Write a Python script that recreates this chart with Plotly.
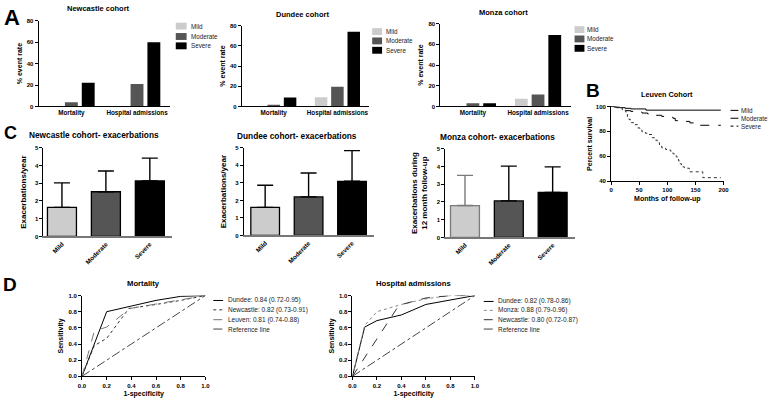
import plotly.graph_objects as go

W, H = 777, 401
FONT = "Liberation Sans, Arial, sans-serif"

# ---------------- data ----------------
severities = ["Mild", "Moderate", "Severe"]
sev_colors = ["#cccccc", "#555555", "#000000"]
outcomes = ["Mortality", "Hospital admissions"]

newcastle_event = {"Mild": [0, 0], "Moderate": [4, 21], "Severe": [22, 60]}
dundee_event = {"Mild": [0, 9], "Moderate": [1.5, 19.5], "Severe": [8.8, 74]}
monza_event = {"Mild": [0, 7.5], "Moderate": [3, 11.5], "Severe": [3, 69]}

surv_mild_t = [0, 8, 15, 25, 35, 45, 60, 62, 195]
surv_mild_s = [100, 99.5, 99, 98.5, 98, 98, 98, 97, 97]
surv_mod_t = [0, 5, 10, 15, 20, 26, 35, 45, 55, 65, 79, 90, 102, 110, 114, 125, 131, 140, 147, 153, 195]
surv_mod_s = [100, 99.5, 99, 98.5, 97.5, 96.6, 96, 95.5, 94.7, 94, 92.9, 92, 91.3, 90.5, 88.6, 88.3, 88, 86.8, 86, 84.9, 84.9]
surv_sev_t = [0, 8, 15, 20, 26, 29, 32, 36, 41, 47, 51, 55, 61, 67, 73, 78, 82, 86, 90, 97, 105, 110, 114, 117,
              120, 123, 125, 130, 134, 139, 160, 163, 195]
surv_sev_s = [100, 99.5, 98.7, 96.6, 95.5, 92, 89.4, 87, 85.4, 82.8, 81, 79.6, 78.5, 77.5, 74.9, 73, 70.9, 69, 66.9,
              65.5, 64.3, 62, 60.3, 58, 56.3, 54, 51.6, 51, 50.5, 47.6, 47.6, 42.9, 42.9]

newcastle_exac_mean = [1.64, 2.52, 3.13]
newcastle_exac_top = [3.02, 3.69, 4.42]
dundee_exac_mean = [1.6, 2.2, 3.09]
dundee_exac_top = [2.86, 3.56, 4.84]
monza_exac_mean = [1.8, 2.06, 2.54]
monza_exac_top = [3.5, 4.02, 3.98]

mort_dundee_x = [0, 0.2, 0.4, 0.6, 0.8, 1.0]
mort_dundee_y = [0, 0.80, 0.87, 0.94, 0.99, 1.0]
mort_newcastle_x = [0, 0.1, 0.2, 0.38, 0.6, 0.8, 1.0]
mort_newcastle_y = [0, 0.38, 0.47, 0.84, 0.89, 0.94, 1.0]
mort_leuven_x = [0, 0.1, 0.2, 0.39, 1.0]
mort_leuven_y = [0, 0.56, 0.61, 0.84, 1.0]
ref_x = [0, 1]
ref_y = [0, 1]

hosp_dundee_x = [0, 0.1, 0.2, 0.4, 0.6, 1.0]
hosp_dundee_y = [0, 0.61, 0.69, 0.76, 0.89, 1.0]
hosp_monza_x = [0, 0.1, 0.2, 0.4, 0.6, 0.8, 1.0]
hosp_monza_y = [0, 0.63, 0.80, 0.89, 0.96, 1.0, 1.0]
hosp_newcastle_x = [0, 0.38, 0.6, 0.8, 1.0]
hosp_newcastle_y = [0, 0.88, 0.97, 1.0, 1.0]

mort_legend = ["Dundee: 0.84 (0.72-0.95)", "Newcastle: 0.82 (0.73-0.91)", "Leuven: 0.81 (0.74-0.88)", "Reference line"]
hosp_legend = ["Dundee: 0.82 (0.78-0.86)", "Monza: 0.88 (0.79-0.96)", "Newcastle: 0.80 (0.72-0.87)", "Reference line"]

# ---------------- helpers ----------------
def dx(a, b):
    return [a / W, b / W]

def dy(top, bottom):
    return [1 - bottom / H, 1 - top / H]

tickfont = dict(family=FONT, size=7, color="black", weight="bold")
titlefont = dict(family=FONT, size=7.5, color="black", weight="bold")

def axis(domain, rng, anchor, title=None, standoff=2, tfont=None, **kw):
    d = dict(domain=domain, range=rng, anchor=anchor, showline=True, linecolor="black", linewidth=1,
             ticks="outside", ticklen=3, tickwidth=1, tickcolor="black", showgrid=False, zeroline=False,
             tickfont=tickfont, fixedrange=True)
    if title:
        d["title"] = dict(text=title, font=tfont or titlefont, standoff=standoff)
    d.update(kw)
    return d

fig = go.Figure()
layout = dict(width=W, height=H, margin=dict(l=0, r=0, t=0, b=0), paper_bgcolor="white", plot_bgcolor="white",
              showlegend=False, barmode="group", bargap=0.23, bargroupgap=0.235,
              font=dict(family=FONT, color="black"))

annotations = []
shapes = []

def text(t, x, y, size=8.5, bold=True, xanchor="center", color="black", angle=0):
    annotations.append(dict(text=t, x=x / W, y=1 - y / H, xref="paper", yref="paper", showarrow=False,
                            xanchor=xanchor, yanchor="middle", textangle=angle, borderpad=0,
                            font=dict(family=FONT, size=size, color=color, weight="bold" if bold else "normal")))

def letter(t, x, y, size=21):
    annotations.append(dict(text=t, x=x / W, y=1 - y / H, xref="paper", yref="paper", showarrow=False,
                            xanchor="left", yanchor="top", borderpad=0,
                            font=dict(family=FONT, size=size, color="black", weight="bold")))

def leg_box(x0, x1, y, color, h=7):
    shapes.append(dict(type="rect", xref="paper", yref="paper", x0=x0 / W, x1=x1 / W,
                       y0=1 - (y + h / 2) / H, y1=1 - (y - h / 2) / H, fillcolor=color, line=dict(width=0)))

def leg_line(x0, x1, y, color, dash, width=1):
    shapes.append(dict(type="line", xref="paper", yref="paper", x0=x0 / W, x1=x1 / W,
                       y0=1 - y / H, y1=1 - y / H, line=dict(color=color, dash=dash, width=width)))

# ---------------- Panel A ----------------
A_specs = [
    ("", newcastle_event, (35, 168), (18, 105), "Newcastle cohort", (96, 6), (174, 185, 188), [23.5, 34, 43.5]),
    ("2", dundee_event, (241, 370), (23, 105), "Dundee cohort", (302, 11.5), (373, 383, 386), [29, 38.5, 48]),
    ("3", monza_event, (442, 574), (21, 105), "Monza cohort", (506, 10), (578, 588, 590), [27, 36.5, 46]),
]
for sfx, data, (x0, x1), (y0, y1), ttl, (tx, ty), (lx0, lx1, ltx), lys in A_specs:
    for sev, col in zip(severities, sev_colors):
        fig.add_trace(go.Bar(x=outcomes, y=data[sev], name=sev, marker=dict(color=col, line=dict(width=0)),
                             xaxis="x" + sfx, yaxis="y" + sfx))
    layout["xaxis" + sfx] = axis(dx(x0, x1), [-0.5, 1.5], "y" + sfx, type="category", ticks="",
                                 tickfont=dict(family=FONT, size=6.3, color="black", weight="bold"))
    layout["yaxis" + sfx] = axis(dy(y0, y1), [0, 80], "x" + sfx, title="% event rate", standoff=3,
                                 tfont=dict(family=FONT, size=7, color="black", weight="bold"),
                                 tickvals=[0, 20, 40, 60, 80], tickfont=dict(family=FONT, size=6, color="black", weight="bold"))
    text(ttl, tx, ty, size=7.5)
    for sev, col, ly in zip(severities, sev_colors, lys):
        leg_box(lx0, lx1, ly, col)
        text(sev, ltx, ly, size=6.3, bold=False, xanchor="left", color="#222")

# ---------------- Panel B ----------------
fig.add_trace(go.Scatter(x=surv_mild_t, y=surv_mild_s, mode="lines", line=dict(color="black", width=1, shape="hv"),
                         xaxis="x4", yaxis="y4", name="Mild"))
fig.add_trace(go.Scatter(x=surv_mod_t, y=surv_mod_s, mode="lines", line=dict(color="black", width=1, shape="hv", dash="dash"),
                         xaxis="x4", yaxis="y4", name="Moderate"))
fig.add_trace(go.Scatter(x=surv_sev_t, y=surv_sev_s, mode="lines", line=dict(color="#333", width=1, shape="hv", dash="dot"),
                         xaxis="x4", yaxis="y4", name="Severe"))
layout["xaxis4"] = axis(dx(615, 729), [0, 200], "y4", title="Months of follow-up", standoff=3,
                        tfont=dict(family=FONT, size=7, color="black", weight="bold"),
                        tickvals=[0, 50, 100, 150, 200], tickfont=dict(family=FONT, size=6, color="black", weight="bold"))
layout["yaxis4"] = axis(dy(105, 181), [40, 100], "x4", title="Percent survival", standoff=2,
                        tfont=dict(family=FONT, size=7, color="black", weight="bold"),
                        tickvals=[40, 60, 80, 100], tickfont=dict(family=FONT, size=6, color="black", weight="bold"))
text("Leuven Cohort", 672, 92.5, size=7.3)
letter("B", 589, 77, size=19)
for sev, dash, ly in zip(severities, ["solid", "dash", "dot"], [109, 117, 125]):
    leg_line(736, 744, ly, "black", dash)
    text(sev, 746, ly, size=6.3, bold=False, xanchor="left", color="#222")

# ---------------- Panel C ----------------
C_specs = [
    ("5", newcastle_exac_mean, newcastle_exac_top, (40, 170), (147, 237), [-0.42, 2.5], "Exacerbations/year",
     "Newcastle cohort- exacerbations", (91, 134.5), ["black", "black", "black"]),
    ("6", dundee_exac_mean, dundee_exac_top, (243, 375), (147, 236), [-0.49, 2.51], "Exacerbations/year",
     "Dundee cohort- exacerbations", (296.5, 135), ["black", "black", "black"]),
    ("7", monza_exac_mean, monza_exac_top, (447, 578), (148, 238), [-0.45, 2.5],
     "Exacerbations during<br>12 month follow-up", "Monza cohort- exacerbations", (499.5, 136), ["#7a7a7a", "black", "black"]),
]
for sfx, means, tops, (x0, x1), (y0, y1), rng, ytitle, ttl, (tx, ty), errcols in C_specs:
    for i, sev in enumerate(severities):
        fig.add_trace(go.Bar(x=[sev], y=[means[i]], width=0.66, offset=-0.33,
                             marker=dict(color=sev_colors[i], line=dict(color=errcols[i], width=1.3)),
                             error_y=dict(type="data", symmetric=False, array=[tops[i] - means[i]], arrayminus=[0],
                                          color=errcols[i], thickness=1.4, width=8),
                             xaxis="x" + sfx, yaxis="y" + sfx, name=sev))
    layout["xaxis" + sfx] = axis(dx(x0, x1), rng, "y" + sfx, type="category", ticks="", tickangle=-45,
                                 linecolor="#777", linewidth=1.5,
                                 tickfont=dict(family=FONT, size=6.3, color="black", weight="bold"))
    layout["yaxis" + sfx] = axis(dy(y0, y1), [0, 5], "x" + sfx, title=ytitle, standoff=7,
                                 tfont=dict(family=FONT, size=8, color="black", weight="bold"),
                                 tickvals=[0, 1, 2, 3, 4, 5],
                                 tickfont=dict(family=FONT, size=6, color="black", weight="bold"))
    text(ttl, tx, ty, size=8.3)

# ---------------- Panel D ----------------
mort_traces = [(mort_dundee_x, mort_dundee_y, "black", "solid"),
               (mort_newcastle_x, mort_newcastle_y, "#333", "dot"),
               (mort_leuven_x, mort_leuven_y, "#777", "dash"),
               (ref_x, ref_y, "#444", "dashdot")]
hosp_traces = [(hosp_dundee_x, hosp_dundee_y, "black", "solid"),
               (hosp_monza_x, hosp_monza_y, "#888", "dot"),
               (hosp_newcastle_x, hosp_newcastle_y, "#333", "dash"),
               (ref_x, ref_y, "#444", "dashdot")]
D_specs = [("8", mort_traces, mort_legend, (79, 204), "Mortality", 141.5, (212, 222, 226), [302, 311.5, 321.5, 331]),
           ("9", hosp_traces, hosp_legend, (353, 477), "Hospital admissions", 415, (486, 496, 499), [303, 312, 321.5, 331])]
for sfx, traces, labels, (x0, x1), ttl, tx, (lx0, lx1, ltx), lys in D_specs:
    for (xs, ys, col, dash), lab in zip(traces, labels):
        fig.add_trace(go.Scatter(x=xs, y=ys, mode="lines", line=dict(color=col, width=1, dash=dash),
                                 xaxis="x" + sfx, yaxis="y" + sfx, name=lab))
    layout["xaxis" + sfx] = axis(dx(x0, x1), [0, 1], "y" + sfx, title="1-specificity", standoff=3,
                                 tickvals=[0, 0.2, 0.4, 0.6, 0.8, 1.0], tickformat=".1f",
                                 tfont=dict(family=FONT, size=7, color="black", weight="bold"),
                                 tickfont=dict(family=FONT, size=6, color="black", weight="bold"))
    layout["yaxis" + sfx] = axis(dy(297, 379), [0, 1], "x" + sfx, title="Sensitivity", standoff=3,
                                 tfont=dict(family=FONT, size=7, color="black", weight="bold"),
                                 tickvals=[0, 0.2, 0.4, 0.6, 0.8, 1.0], tickformat=".1f",
                                 tickfont=dict(family=FONT, size=6, color="black", weight="bold"))
    text(ttl, tx, 285, size=7.7)
    for (xs, ys, col, dash), lab, ly in zip(traces, labels, lys):
        leg_line(lx0, lx1, ly, col, dash)
        text(lab, ltx, ly, size=6.5, bold=False, xanchor="left", color="#222")

letter("A", -1, 1, size=22)
letter("C", -1, 121, size=18)
letter("D", -2, 274, size=19)

layout["annotations"] = annotations
layout["shapes"] = shapes
fig.update_layout(**layout)
fig.write_html("out.html", config={"displayModeBar": False},
               post_script="document.body.style.margin='0';document.body.style.overflow='hidden';")
